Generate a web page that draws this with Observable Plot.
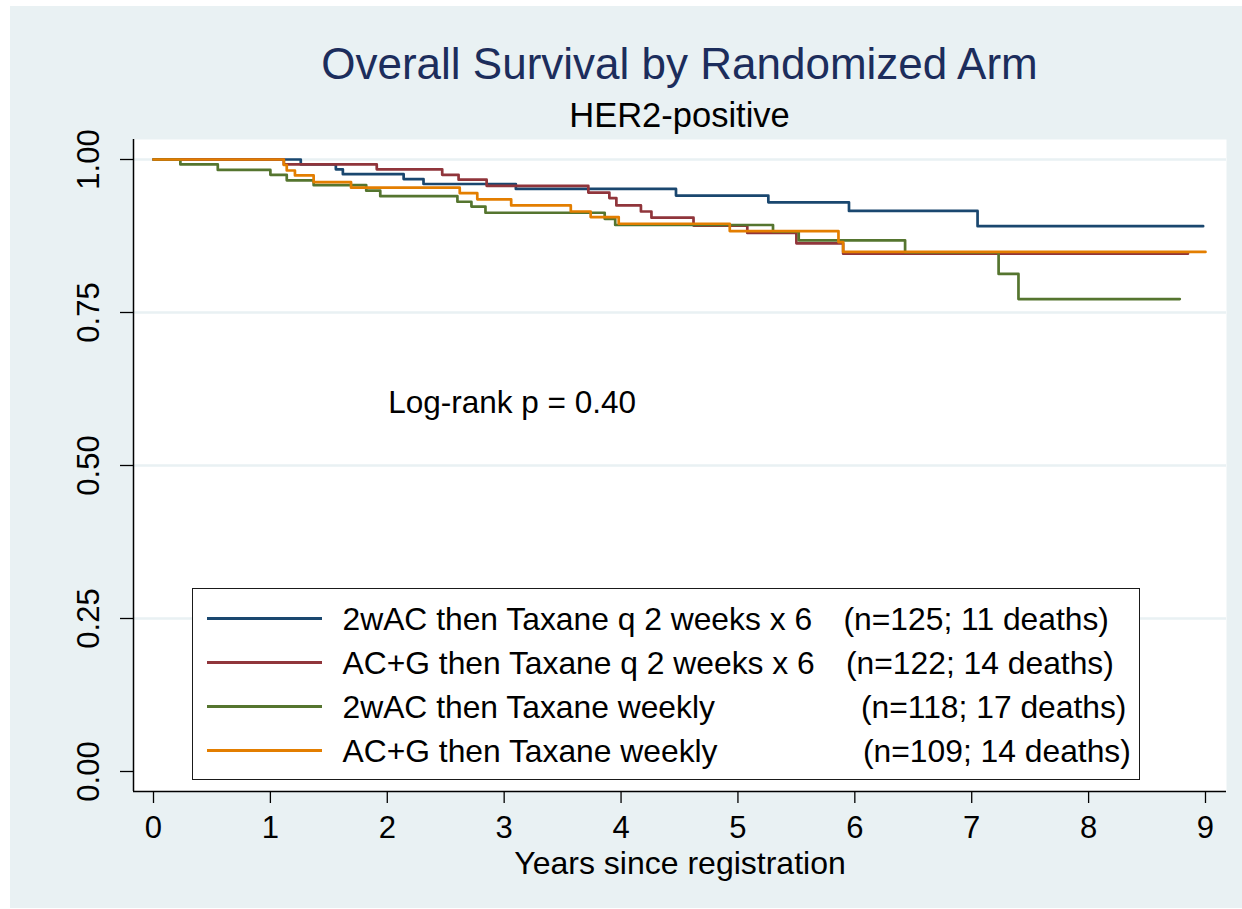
<!DOCTYPE html>
<html>
<head>
<meta charset="utf-8">
<script src="https://cdn.jsdelivr.net/npm/d3@7"></script>
<script src="https://cdn.jsdelivr.net/npm/@observablehq/plot@0.6"></script>
<style>
  html, body { margin: 0; padding: 0; background: #ffffff; }
  #wrap { position: relative; width: 1242px; height: 909px; overflow: hidden;
          font-family: "Liberation Sans", Arial, Helvetica, sans-serif; }
  #panel { position: absolute; left: 10px; top: 6px; right: 0; bottom: 1px; background: #e9f1f3; }
  #chart { position: absolute; left: 0; top: 0; }
  .ttl { position: absolute; left: 133px; width: 1093px; text-align: center; white-space: nowrap; }
  #t1 { top: 41.8px; font-size: 44px; line-height: 44px; color: #1c2d5c; }
  #t2 { top: 97.8px; font-size: 34.5px; line-height: 34.5px; color: #000; }
  #legend { position: absolute; left: 192px; top: 588px; width: 948px; height: 192px;
            box-sizing: border-box; background: #fff; border: 1.5px solid #1a1a1a; }
  #legend .sw { position: absolute; height: 3px; width: 115px; left: 13.5px; }
  #legend .lt { position: absolute; font-size: 31.8px; line-height: 31.8px; white-space: nowrap; color: #000; }
</style>
</head>
<body>
<div id="wrap">
  <div id="panel"></div>
  <div id="chart"></div>
  <div class="ttl" id="t1"></div>
  <div class="ttl" id="t2"></div>
  <div id="legend"></div>
</div>
<script>
// ---------------- data ----------------
const titleText = "Overall Survival by Randomized Arm";
const subtitleText = "HER2-positive";
const xLabel = "Years since registration";
const logRankText = "Log-rank p = 0.40";

const arms = [
  "2wAC then Taxane q 2 weeks x 6",
  "AC+G then Taxane q 2 weeks x 6",
  "2wAC then Taxane weekly",
  "AC+G then Taxane weekly"
];
const counts = ["(n=125; 11 deaths)", "(n=122; 14 deaths)", "(n=118; 17 deaths)", "(n=109; 14 deaths)"];

// Kaplan–Meier step curves (years, survival probability)
const arm1Time = [0, 1.26, 1.56, 1.62, 2.14, 2.31, 3.10, 4.47, 5.26, 5.95, 7.05, 8.98];
const arm1Surv = [1, 0.992, 0.984, 0.976, 0.968, 0.960, 0.952, 0.941, 0.930, 0.916, 0.891, 0.891];

const arm2Time = [0, 1.115, 1.91, 2.47, 2.61, 2.85, 3.72, 3.90, 3.96, 4.17, 4.26, 4.62, 5.08, 5.50, 5.90, 8.85];
const arm2Surv = [1, 0.992, 0.984, 0.975, 0.967, 0.957, 0.946, 0.937, 0.925, 0.915, 0.905, 0.892, 0.880, 0.863, 0.846, 0.846];

const arm3Time = [0, 0.23, 0.55, 1.00, 1.14, 1.37, 1.82, 1.94, 2.60, 2.72, 2.84, 3.86, 3.95, 5.30, 5.52, 6.43, 7.23, 7.40, 8.78];
const arm3Surv = [1, 0.992, 0.983, 0.975, 0.966, 0.958, 0.949, 0.940, 0.931, 0.923, 0.913, 0.903, 0.893, 0.882, 0.868, 0.848, 0.813, 0.772, 0.772];

const arm4Time = [0, 1.115, 1.14, 1.21, 1.37, 1.69, 2.62, 2.77, 3.06, 3.57, 3.74, 3.98, 4.93, 5.86, 5.90, 9.00];
const arm4Surv = [1, 0.991, 0.982, 0.974, 0.963, 0.954, 0.945, 0.935, 0.925, 0.915, 0.906, 0.895, 0.883, 0.865, 0.849, 0.849];

const xTicks = [0, 1, 2, 3, 4, 5, 6, 7, 8, 9];
const yTicks = [0, 0.25, 0.5, 0.75, 1];
const yGrid = [0.25, 0.5, 0.75, 1];
const logRankPos = {x: 2.008, y: 0.603};

// ---------------- styles ----------------
const colors = ["#1a476f", "#90353b", "#55752f", "#e37e00"];
const gridColor = "#e9f1f3";
const FONT = "'Liberation Sans', Arial, Helvetica, sans-serif";

// ---------------- build ----------------
const times = [arm1Time, arm2Time, arm3Time, arm4Time];
const survs = [arm1Surv, arm2Surv, arm3Surv, arm4Surv];
const rows = [];
arms.forEach((a, i) => times[i].forEach((t, j) => rows.push({arm: a, t, s: survs[i][j]})));

const xDomain = [-0.1711, 9.1797];
const yDomain = [-0.03268, 1.03268];

const plot = Plot.plot({
  width: 1242,
  height: 909,
  marginLeft: 133,
  marginRight: 16,
  marginTop: 139,
  marginBottom: 118,
  style: {background: "transparent", fontFamily: FONT, fontSize: "31px", color: "#000", overflow: "visible"},
  x: {domain: xDomain},
  y: {domain: yDomain},
  color: {domain: arms, range: colors},
  marks: [
    Plot.frame({fill: "white", stroke: "none"}),
    Plot.ruleY(yGrid, {stroke: gridColor, strokeWidth: 2.7}),
    Plot.line(rows, {x: "t", y: "s", z: "arm", stroke: "arm", curve: "step-after", strokeWidth: 2.7}),
    Plot.text([logRankText], {x: () => logRankPos.x, y: () => logRankPos.y, text: d => d,
      textAnchor: "start", lineAnchor: "middle", fontSize: 31.5, fill: "#000"}),
    Plot.axisX({ticks: xTicks, tickSize: 12, tickPadding: 12, label: null, fontSize: 31,
      tickFormat: d => String(d), strokeWidth: 1.3}),
    Plot.axisY({ticks: yTicks, tickSize: 13, tickPadding: 22, tickRotate: -90, label: null, fontSize: 31,
      tickFormat: d3.format(".2f"), strokeWidth: 1.3}),
    Plot.ruleX([xDomain[0]], {stroke: "#000", strokeWidth: 1.5}),
    Plot.ruleY([yDomain[0]], {stroke: "#000", strokeWidth: 1.5}),
    Plot.text([xLabel], {frameAnchor: "bottom", dy: 82, lineAnchor: "bottom", text: d => d, fontSize: 32, fill: "#000"})
  ]
});
document.getElementById("chart").appendChild(plot);

document.getElementById("t1").textContent = titleText;
document.getElementById("t2").textContent = subtitleText;

// legend (inside the plot region, as in the original)
const legend = document.getElementById("legend");
const countLeft = [844, 846.5, 861.5, 863.5];
const LFS = 31.8;
const baseOff = (LFS - 1.117 * LFS) / 2 + 0.905 * LFS;
arms.forEach((a, i) => {
  const center = 618.5 + 44 * i - 589.5;      // relative to legend padding box
  const sw = document.createElement("div");
  sw.className = "sw";
  sw.style.top = (center - 1.5) + "px";
  sw.style.background = colors[i];
  legend.appendChild(sw);
  const baseline = center + 13.2;
  const t1 = document.createElement("div");
  t1.className = "lt";
  t1.style.left = (343 - 193.5) + "px";
  t1.style.top = (baseline - baseOff) + "px";
  t1.textContent = a;
  legend.appendChild(t1);
  const t2 = document.createElement("div");
  t2.className = "lt";
  t2.style.left = (countLeft[i] - 193.5) + "px";
  t2.style.top = (baseline - baseOff) + "px";
  t2.textContent = counts[i];
  legend.appendChild(t2);
});
</script>
</body>
</html>
